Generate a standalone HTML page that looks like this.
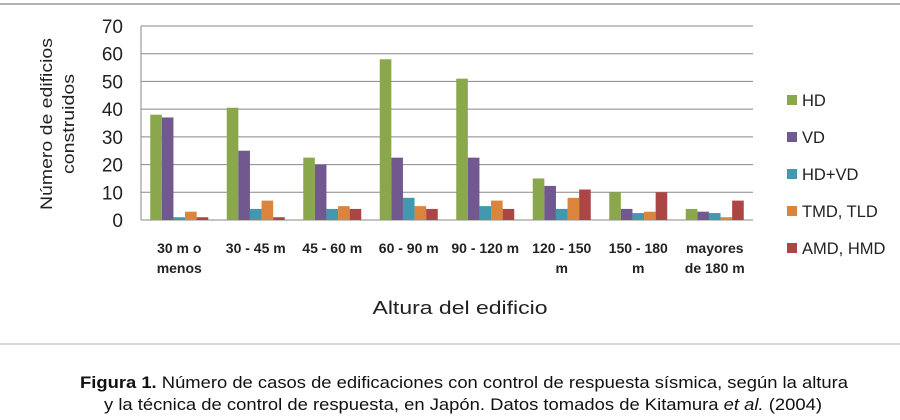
<!DOCTYPE html>
<html><head><meta charset="utf-8"><style>
body{margin:0;background:#fff;width:900px;height:415px;overflow:hidden}
svg text{font-family:"Liberation Sans",sans-serif}
</style></head><body>
<svg width="900" height="415">
<line x1="0" y1="4" x2="900" y2="4" stroke="#999" stroke-width="1.5"/>
<line x1="0" y1="344" x2="900" y2="344" stroke="#ccc" stroke-width="1.5"/>
<g id="grid"></g><g id="bars"></g><g id="xl"></g>
<text transform="translate(58,124) rotate(-90)" text-anchor="middle" font-size="17" fill="#222"><tspan x="0" dy="-6" textLength="172" lengthAdjust="spacingAndGlyphs">Número de edificios</tspan><tspan x="0" dy="22" textLength="100" lengthAdjust="spacingAndGlyphs">construidos</tspan></text>
<text x="460" y="314" text-anchor="middle" font-size="18" fill="#222" textLength="175" lengthAdjust="spacingAndGlyphs">Altura del edificio</text>
<g id="legend"></g>
<text x="464" y="388" text-anchor="middle" font-size="16.5" fill="#111" textLength="768" lengthAdjust="spacingAndGlyphs"><tspan font-weight="bold">Figura 1.</tspan> Número de casos de edificaciones con control de respuesta sísmica, según la altura</text>
<text x="463" y="410" text-anchor="middle" font-size="16.5" fill="#111" textLength="718" lengthAdjust="spacingAndGlyphs">y la técnica de control de respuesta, en Japón. Datos tomados de Kitamura <tspan font-style="italic">et al.</tspan> (2004)</text>
</svg>
<script>
const categories=[["30 m  o","menos"],["30 - 45 m"],["45 - 60 m"],["60 - 90 m"],["90 - 120 m"],["120 - 150","m"],["150 - 180","m"],["mayores","de 180 m"]];
const seriesNames=["HD","VD","HD+VD","TMD, TLD","AMD, HMD"];
const colors=["#8aa84b","#71588f","#4198af","#db843d","#aa4643"];
const hd=[38,40.5,22.5,58,51,15,10,4];
const vd=[37,25,20,22.5,22.5,12.3,4,3];
const hdvd=[1,4,4,8,5,4,2.5,2.5];
const tmd=[3,7,5,5,7,8,3,1];
const amd=[1,1,4,4,4,11,10,7];
const yTicks=[0,10,20,30,40,50,60,70];
const series=[hd,vd,hdvd,tmd,amd];
const NS="http://www.w3.org/2000/svg";
const x0=141,x1=753,y0=220,yTop=26;
const y=v=>y0-(v/70)*(y0-yTop);
const step=(x1-x0)/categories.length;
const bw=11.6;
function el(t,a,p){const e=document.createElementNS(NS,t);for(const k in a)e.setAttribute(k,a[k]);p.appendChild(e);return e;}
const grid=document.getElementById('grid');
yTicks.forEach(t=>{
 const l=el('line',{x1:x0,x2:x1,y1:y(t),y2:y(t),stroke:'#888','stroke-width':1},grid);
 
 
 const tx=el('text',{x:123,y:y(t)+7,'text-anchor':'end','font-size':19,fill:'#222'},grid);
 tx.textContent=t;
 
 
});
const ax=el('line',{x1:x0,x2:x0,y1:yTop,y2:y0,stroke:'#888'},grid);


const bars=document.getElementById('bars'),xl=document.getElementById('xl');
categories.forEach((c,i)=>{
 const cx=x0+step*(i+0.5);
 series.forEach((s,j)=>{
  const r=el('rect',{x:cx-2.5*bw+j*bw,y:y(s[i]),width:bw,height:y0-y(s[i]),fill:colors[j]},bars);
  
  
 });
 c.forEach((ln,k)=>{
  const t=el('text',{x:cx,y:253+k*20,'text-anchor':'middle','font-size':14,'font-weight':'bold',fill:'#222'},xl);
  t.textContent=ln;
  
  
 });
});
const lg=document.getElementById('legend');
seriesNames.forEach((n,j)=>{
 const yy=100+j*37;
 const g=el('g',{},lg);
 
 
 el('rect',{x:787,y:yy-5,width:10,height:10,fill:colors[j]},g);
 const t=el('text',{x:802,y:yy+6,'font-size':16.5,fill:'#222'},g);
 t.textContent=n;
});
</script>
</body></html>
